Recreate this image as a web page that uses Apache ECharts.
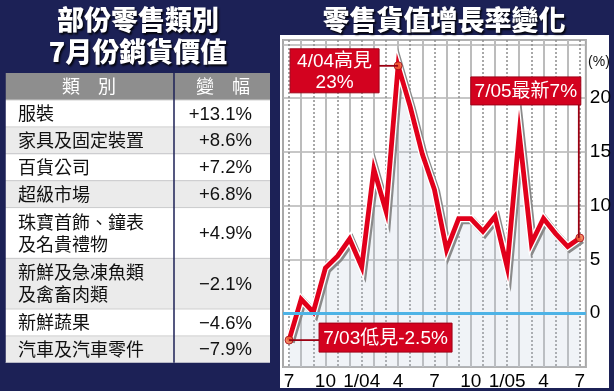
<!DOCTYPE html>
<html><head><meta charset="utf-8">
<script src="https://cdn.jsdelivr.net/npm/echarts@6/dist/echarts.min.js"></script>
<style>html,body{margin:0;padding:0;background:#1c2156;}#c{width:614px;height:391px;}</style>
</head><body><div id="c"></div>
<script>
// ---- data ----
const months = ['7/03','8/03','9/03','10/03','11/03','12/03','1/04','2/04','3/04','4/04','5/04','6/04','7/04',
                '8/04','9/04','10/04','11/04','12/04','1/05','2/05','3/05','4/05','5/05','6/05','7/05'];
const tickLabels = ['7','10','1/04','4','7','10','1/05','4','7'];
const growth = [-2.5, 1.3, 0.1, 4.2, 5.3, 6.9, 4.3, 13.4, 9.5, 23, 19.2, 14.8, 11.5,
                5.9, 8.8, 8.8, 7.6, 9.0, 4.3, 16.7, 6.5, 8.8, 7.4, 6.2, 7.0];
const yTickLabels = [0, 5, 10, 15, 20];
const tableCats = ['服裝','家具及固定裝置','百貨公司','超級市場','珠寶首飾、鐘表\n及名貴禮物',
                   '新鮮及急凍魚類\n及禽畜肉類','新鮮蔬果','汽車及汽車零件'];
const tableChanges = [13.1, 8.6, 7.2, 6.8, 4.9, -2.1, -4.6, -7.9];
const annotIdx = [9, 24, 0];
const annotText = ['4/04高見\n23%', '7/05最新7%', '7/03低見-2.5%'];

// ---- styles ----
const NAVY = '#1c2156';
const RED = '#e1001b';
const BOXRED = '#d3021f';
const LAT = '"Liberation Sans","Noto Sans CJK TC",sans-serif';
const NARROW = '"Liberation Sans Narrow","Liberation Sans",sans-serif';
const CJK = '"Noto Sans CJK TC","Liberation Sans",sans-serif';

const chart = echarts.init(document.getElementById('c'));

function fmtChange(v){ return (v >= 0 ? '+' : '\u2212') + Math.abs(v).toFixed(1) + '%'; }

const g = [];
g.push({type:'rect', z:-5, shape:{x:280, y:35, width:329, height:353}, style:{fill:'#fff'}});
const titleShadow = {textShadowColor:'rgba(0,0,0,0.85)', textShadowOffsetX:1.5, textShadowOffsetY:1.5, textShadowBlur:2};
g.push({type:'text', z:5, x:138, y:20, style:Object.assign({text:'部份零售類別', fill:'#fff', font:'900 27px '+CJK, align:'center', verticalAlign:'middle'}, titleShadow)});
g.push({type:'text', z:5, x:138, y:52, style:Object.assign({text:'7月份銷貨價值', fill:'#fff', font:'900 27px '+CJK, align:'center', verticalAlign:'middle'}, titleShadow)});
g.push({type:'text', z:5, x:444, y:20, style:Object.assign({text:'零售貨值增長率變化', fill:'#fff', font:'900 27px '+CJK, align:'center', verticalAlign:'middle'}, titleShadow)});

const TX0 = 5, TX1 = 270, TDIV = 174;
let y = 73;
g.push({type:'rect', z:1, shape:{x:TX0, y:y, width:TX1-TX0, height:27}, style:{fill:'#8e8e8e'}});
g.push({type:'text', z:5, x:89, y:y+13.5, style:{text:'類\u3000別', fill:'#fff', font:'18px '+CJK, align:'center', verticalAlign:'middle'}});
g.push({type:'text', z:5, x:223, y:y+13.5, style:{text:'變\u3000幅', fill:'#fff', font:'18px '+CJK, align:'center', verticalAlign:'middle'}});
y += 27;
tableCats.forEach((c, i) => {
  const lines = c.split('\n').length;
  const h = lines === 1 ? 26.9 : 50.7;
  g.push({type:'rect', z:1, shape:{x:TX0, y:y, width:TX1-TX0, height:h}, style:{fill: i % 2 === 0 ? '#ffffff' : '#ebebeb'}});
  g.push({type:'line', z:2, shape:{x1:TX0, y1:y, x2:TX1, y2:y}, style:{stroke:'#cfcfcf', lineWidth:1}});
  g.push({type:'text', z:5, x:18, y:y+h/2, style:{text:c, fill:'#111', font:'18px '+CJK, lineHeight:22, align:'left', verticalAlign:'middle'}});
  g.push({type:'text', z:5, x:252, y:y+h/2+1, style:{text:fmtChange(tableChanges[i]), fill:'#111', font:'18.5px '+LAT, align:'right', verticalAlign:'middle'}});
  y += h;
});
g.push({type:'line', z:3, shape:{x1:TDIV, y1:73, x2:TDIV, y2:y}, style:{stroke:NAVY, lineWidth:1.5}});
g.push({type:'line', z:3, shape:{x1:TX0, y1:73, x2:TX0, y2:y}, style:{stroke:NAVY, lineWidth:1.5}});
g.push({type:'text', z:5, x:599, y:62, style:{text:'(%)', fill:'#111', font:'14px '+LAT, align:'center', verticalAlign:'middle'}});

// half-band axis for vertical lines: month i centre = 2i+1
const halfMax = months.length * 2;
const T = 'rgba(0,0,0,0)';
const option = {
  backgroundColor: NAVY,
  animation: false,
  grid: [
    {left:283, top:40, width:307, height:327, show:true, backgroundColor:'transparent', borderColor:'#a8a8a8', borderWidth:2}
  ],
  xAxis: [
    {type:'category', data:months, boundaryGap:true, position:'bottom',
     axisLine:{show:false, onZero:false}, axisTick:{show:false},
     axisLabel:{interval:2, formatter:(v, i) => tickLabels[i/3] || '', fontSize:19, fontFamily:NARROW, color:'#000', margin:5},
     splitLine:{show:false}},
    {type:'value', min:0, max:halfMax, interval:1, position:'top',
     axisLine:{show:false, onZero:false}, axisTick:{show:false}, axisLabel:{show:false},
     splitLine:{show:true, lineStyle:{color:[T, '#8c8c8c', T, T], width:1.5, type:[2,2]}}},
    {type:'value', min:0, max:halfMax, interval:1, position:'top', offset:20,
     axisLine:{show:false, onZero:false}, axisTick:{show:false}, axisLabel:{show:false},
     splitLine:{show:true, lineStyle:{color:[T, T, T, '#bcbcbc'], width:2}}}
  ],
  yAxis: [
    {type:'value', min:-5, max:25.4, interval:5, position:'right',
     axisLine:{show:false}, axisTick:{show:false},
     axisLabel:{formatter:(v) => yTickLabels.includes(v) ? String(v) : '', fontSize:19, fontFamily:NARROW, color:'#000', margin:4},
     splitLine:{lineStyle:{color:'#b4b4b4', width:1.5}}}
  ],
  series: [
    {type:'line', xAxisIndex:0, data:growth, symbol:'none', z:3,
     lineStyle:{color:'#fff', width:7.5, join:'miter', shadowColor:'#8a8a8a', shadowOffsetX:2, shadowOffsetY:2, shadowBlur:0},
     areaStyle:{color:'rgba(185,198,215,0.3)', origin:'start'},
     markLine:{silent:true, symbol:'none', label:{show:false}, animation:false,
       lineStyle:{color:'#4db3e6', width:3, type:'solid'}, data:[{yAxis:0}]}},
    {type:'line', xAxisIndex:0, data:growth, symbol:'none', z:4,
     lineStyle:{color:RED, width:4.8, join:'miter'}},
    {type:'scatter', xAxisIndex:0, z:8, symbolSize:8,
     data: annotIdx.map(i => [i, growth[i]]),
     itemStyle:{color:'#f36b3b', borderColor:'#a3000f', borderWidth:1}}
  ],
  graphic: g
};
chart.setOption(option);

const P = annotIdx.map(i => chart.convertToPixel({seriesIndex:1}, [i, growth[i]]));
const ag = [];
const boxStyle = {fill:BOXRED, stroke:'#a00016', lineWidth:1};
const lead = {stroke:'#9b0012', lineWidth:1.8};
const tfont = '19px '+LAT;
{ const p = P[0]; const x = p[0]-108, yy = p[1]-17, w = 89, h = 44;
  ag.push({type:'line', z:20, shape:{x1:x+w, y1:p[1], x2:p[0], y2:p[1]}, style:lead});
  ag.push({type:'rect', z:21, shape:{x:x, y:yy, width:w, height:h}, style:boxStyle});
  ag.push({type:'text', z:22, x:x+w/2, y:yy+h/2+1, style:{text:annotText[0], fill:'#fff', font:tfont, lineHeight:21, align:'center', verticalAlign:'middle'}}); }
{ const p = P[1]; const w = 110, h = 28, x = p[0]-w+1, yy = p[1]-161;
  ag.push({type:'line', z:20, shape:{x1:p[0]-1, y1:yy+h, x2:p[0]-1, y2:p[1]}, style:lead});
  ag.push({type:'rect', z:21, shape:{x:x, y:yy, width:w, height:h}, style:boxStyle});
  ag.push({type:'text', z:22, x:x+w/2, y:yy+h/2+1, style:{text:annotText[1], fill:'#fff', font:tfont, align:'center', verticalAlign:'middle'}}); }
{ const p = P[2]; const x = p[0]+30, yy = p[1]-17, w = 133, h = 29;
  ag.push({type:'line', z:20, shape:{x1:p[0], y1:p[1], x2:x, y2:p[1]}, style:lead});
  ag.push({type:'rect', z:21, shape:{x:x, y:yy, width:w, height:h}, style:boxStyle});
  ag.push({type:'text', z:22, x:x+w/2, y:yy+h/2+1, style:{text:annotText[2], fill:'#fff', font:tfont, align:'center', verticalAlign:'middle'}}); }
chart.setOption({graphic: g.concat(ag)});
</script></body></html>
